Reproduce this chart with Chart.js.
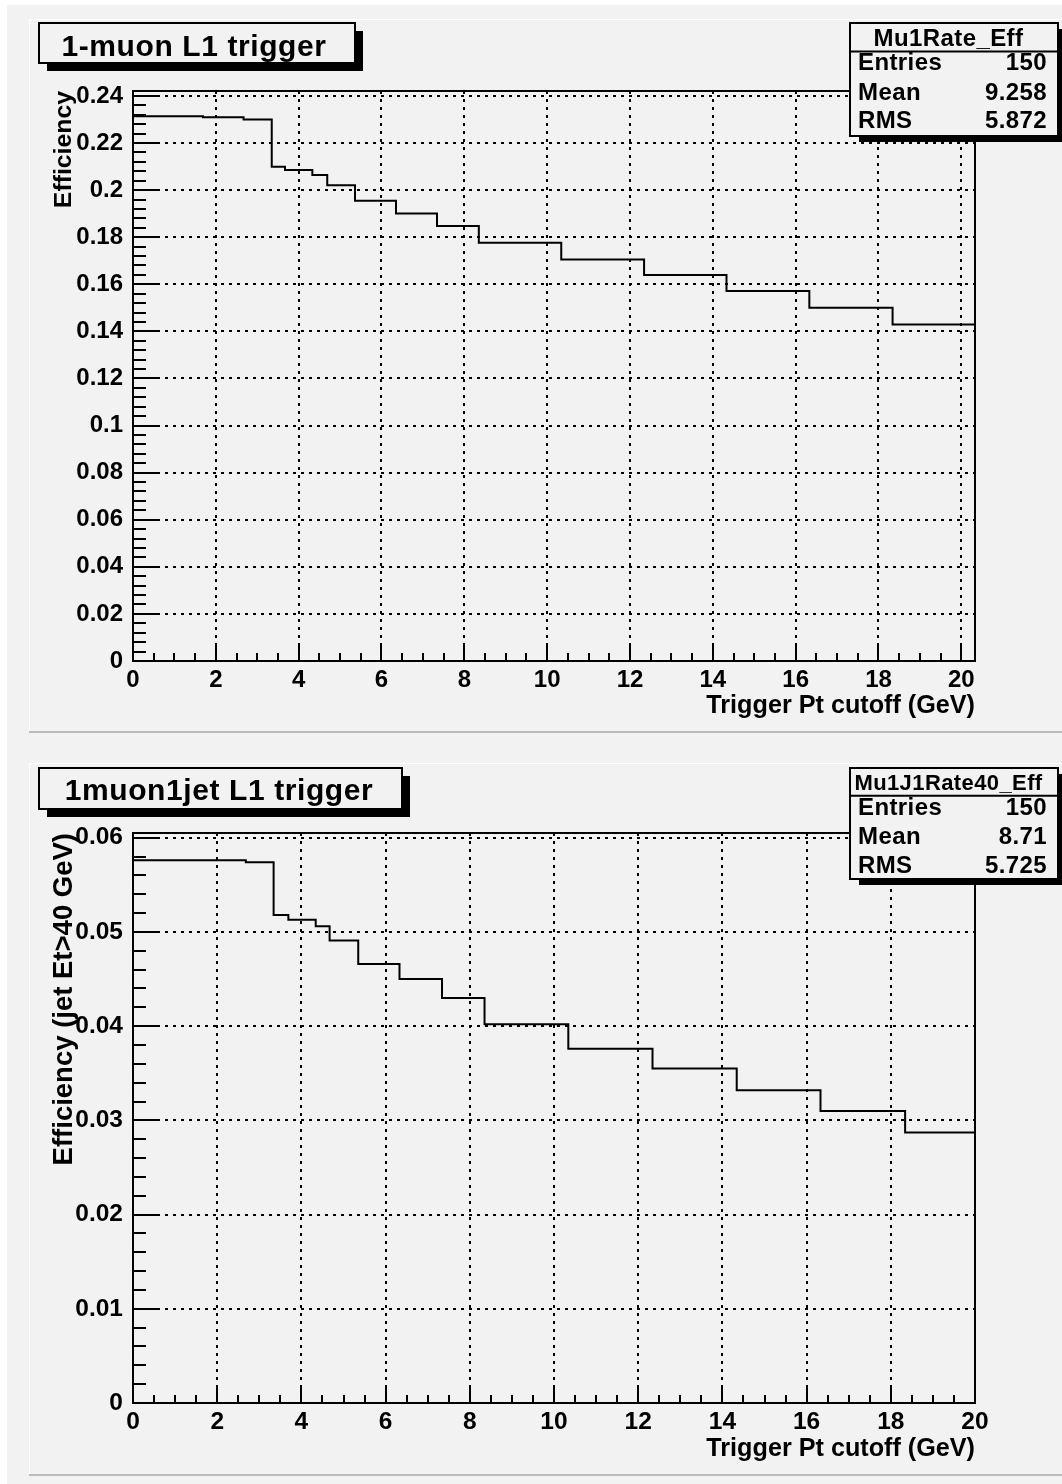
<!DOCTYPE html>
<html>
<head>
<meta charset="utf-8">
<title>L1 trigger efficiency vs Pt cutoff</title>
<script src="https://cdn.jsdelivr.net/npm/chart.js@4.4.1/dist/chart.umd.min.js"></script>
<style>
  html, body { margin: 0; padding: 0; background: #ffffff; }
  #sheet { position: relative; width: 1062px; height: 1484px; }
  #sheet canvas { position: absolute; left: 0; }
  #padTop { top: 0; }
  #padBottom { top: 742px; }
</style>
</head>
<body>
<div id="sheet">
  <canvas id="padTop" width="1062" height="742"></canvas>
  <canvas id="padBottom" width="1062" height="742"></canvas>
</div>
<script>
const BG = '#f2f2f2';
const FONT = "'Liberation Sans', Arial, Helvetica, sans-serif";

// 1-muon L1 trigger: lower bin edges in Pt cutoff (last entry = upper edge) and efficiency per bin
const muonCutEdges = [0, 1.69, 2.67, 3.35, 3.67, 4.33, 4.69, 5.36, 6.35, 7.34, 8.35, 10.34, 12.34, 14.33, 16.33, 18.34, 20.33];
const muonEff = [0.2314, 0.2309, 0.2300, 0.2099, 0.2085, 0.2064, 0.2021, 0.1955, 0.1901, 0.1848, 0.1776, 0.1705, 0.1639, 0.1571, 0.1500, 0.1429];
const muonStatValues = ['150', '9.258', '5.872'];

// 1muon1jet L1 trigger, jet Et > 40 GeV
const jetCutEdges = [0, 2.68, 3.34, 3.69, 4.34, 4.67, 5.35, 6.33, 7.34, 8.35, 10.34, 12.34, 14.34, 16.33, 18.34, 20];
const jetEff = [0.0576, 0.0574, 0.0518, 0.0513, 0.0506, 0.0491, 0.0466, 0.0450, 0.0430, 0.0402, 0.0376, 0.0355, 0.0332, 0.0310, 0.0287];
const jetStatValues = ['150', '8.71', '5.725'];

const statLabels = ['Entries', 'Mean', 'RMS'];

// axis ranges / tick steps
const xStep = 2;
const muonYMax = 0.2421;
const muonYStep = 0.02;
const jetYMax = 0.0605;
const jetYStep = 0.01;

function histPoints(edges, values) {
    const pts = values.map((v, i) => ({x: edges[i], y: v}));
    pts.push({x: edges[edges.length - 1], y: values[values.length - 1]});
    return pts;
}

function drawShadowBox(ctx, box, dx, dy) {
    const [x, y, w, h] = box;
    ctx.fillStyle = '#000';
    ctx.fillRect(x + dx, y + dy, w, h);
    ctx.fillStyle = BG;
    ctx.fillRect(x, y, w, h);
    ctx.lineWidth = 2;
    ctx.strokeStyle = '#000';
    ctx.strokeRect(x, y, w, h);
}

// ROOT-like pad decorations: background, frame, tick marks, title and stats boxes
const rootPad = {
    id: 'rootPad',
    beforeDraw(chart, args, opts) {
        const {ctx, width, height} = chart;
        ctx.save();
        ctx.fillStyle = '#ffffff';
        ctx.fillRect(0, 0, width, height);
        ctx.fillStyle = BG;
        ctx.fillRect(7, opts.sheetTop, width - 7, height - opts.sheetTop);
        const [top, bottom] = opts.padEdges;
        ctx.fillStyle = '#ffffff';
        ctx.fillRect(29, top, width - 29, 1);
        ctx.fillRect(29, top, 1, bottom - top);
        ctx.fillStyle = '#bcbcbc';
        ctx.fillRect(29, bottom, width - 29, 2);
        ctx.restore();
    },
    afterDatasetsDraw(chart) {
        const {ctx, chartArea: a, scales: {x, y}} = chart;
        ctx.save();
        ctx.strokeStyle = '#000';
        ctx.lineWidth = 2;
        ctx.beginPath();
        // y ticks: 5 subdivisions per labelled step
        const ySub = y.options.ticks.stepSize / 5;
        for (let k = 0; k * ySub <= y.max + 1e-9; k++) {
            const py = Math.round(y.getPixelForValue(k * ySub));
            const len = k % 5 === 0 ? 25 : 13;
            ctx.moveTo(a.left, py);
            ctx.lineTo(a.left + len, py);
        }
        // x ticks: 4 subdivisions
        const xSub = x.options.ticks.stepSize / 4;
        for (let k = 0; k * xSub <= x.max + 1e-9; k++) {
            const px = Math.round(x.getPixelForValue(k * xSub));
            const len = k % 4 === 0 ? 17 : 8;
            ctx.moveTo(px, a.bottom);
            ctx.lineTo(px, a.bottom - len);
        }
        ctx.stroke();
        ctx.strokeRect(a.left, a.top, a.right - a.left, a.bottom - a.top);
        ctx.restore();
    },
    afterDraw(chart, args, opts) {
        const ctx = chart.ctx;
        ctx.save();

        // title box
        drawShadowBox(ctx, opts.titleBox, 8, 8);
        ctx.fillStyle = '#000';
        ctx.font = 'bold 30px ' + FONT;
        ctx.letterSpacing = '0.6px';
        ctx.textAlign = 'center';
        ctx.textBaseline = 'alphabetic';
        ctx.fillText(opts.title, opts.titleX, opts.titleBase);

        // stats box
        drawShadowBox(ctx, opts.statBox, 9, 6);
        const [sx, , sw] = opts.statBox;
        ctx.beginPath();
        ctx.lineWidth = 2;
        ctx.moveTo(sx, opts.statLine);
        ctx.lineTo(sx + sw, opts.statLine);
        ctx.stroke();
        ctx.fillStyle = '#000';
        ctx.letterSpacing = '0.4px';
        ctx.font = 'bold ' + opts.statHeadSize + 'px ' + FONT;
        ctx.textAlign = 'center';
        ctx.fillText(opts.statName, 948.5, opts.statHeadBase);
        ctx.font = 'bold 24px ' + FONT;
        statLabels.forEach((label, i) => {
            ctx.textAlign = 'left';
            ctx.fillText(label, 858, opts.statBase[i]);
            ctx.textAlign = 'right';
            ctx.fillText(opts.statValues[i], 1047, opts.statBase[i]);
        });
        ctx.restore();
    }
};

function makePad(cfg) {
    return new Chart(document.getElementById(cfg.canvas), {
        type: 'line',
        data: {
            datasets: [{
                data: histPoints(cfg.edges, cfg.values),
                stepped: 'before',
                borderColor: '#000',
                borderWidth: 2,
                pointRadius: 0,
                fill: false
            }]
        },
        options: {
            responsive: false,
            animation: false,
            devicePixelRatio: 1,
            events: [],
            layout: {padding: {left: 33, top: 91, right: 87, bottom: 742 - 661 - cfg.xAxisHeight}},
            plugins: {
                legend: {display: false},
                tooltip: {enabled: false},
                rootPad: cfg.decor
            },
            scales: {
                x: {
                    type: 'linear',
                    min: 0,
                    max: cfg.edges[cfg.edges.length - 1],
                    afterFit: scale => { scale.height = cfg.xAxisHeight; },
                    ticks: {
                        stepSize: xStep,
                        includeBounds: false,
                        autoSkip: false,
                        maxRotation: 0,
                        padding: cfg.xTickPad,
                        color: '#000',
                        font: {family: FONT, size: cfg.tickSize, weight: 'bold', lineHeight: 1},
                        callback: v => String(v)
                    },
                    grid: {color: '#000', lineWidth: 2, drawTicks: false},
                    border: {display: false, dash: [3, 5]},
                    title: {
                        display: true,
                        text: 'Trigger Pt cutoff (GeV)',
                        align: 'end',
                        color: '#000',
                        padding: 0,
                        font: {family: FONT, size: 25.2, weight: 'bold', lineHeight: 1}
                    }
                },
                y: {
                    type: 'linear',
                    min: 0,
                    max: cfg.yMax,
                    afterFit: scale => { scale.width = 100; },
                    ticks: {
                        stepSize: cfg.yStep,
                        includeBounds: false,
                        autoSkip: false,
                        padding: 10,
                        color: '#000',
                        font: {family: FONT, size: cfg.tickSize, weight: 'bold', lineHeight: 1},
                        callback: v => String(+v.toFixed(4))
                    },
                    grid: {color: '#000', lineWidth: 2, drawTicks: false},
                    border: {display: false, dash: [3, 5]},
                    title: {
                        display: true,
                        text: cfg.yTitle,
                        align: 'end',
                        color: '#000',
                        padding: {top: 31 - cfg.axisTitleSize / 2},
                        font: {family: FONT, size: cfg.axisTitleSize, weight: 'bold', lineHeight: 1}
                    }
                }
            }
        },
        plugins: [rootPad]
    });
}

makePad({
    canvas: 'padTop',
    edges: muonCutEdges,
    values: muonEff,
    yMax: muonYMax,
    yStep: muonYStep,
    yTitle: 'Efficiency',
    tickSize: 24,
    axisTitleSize: 24.8,
    xTickPad: 7.5,
    xAxisHeight: 58,
    decor: {
        sheetTop: 5,
        padEdges: [19, 731],
        title: '1-muon L1 trigger',
        titleBox: [39, 23, 316, 40],
        titleX: 194,
        titleBase: 56,
        statName: 'Mu1Rate_Eff',
        statHeadSize: 24,
        statBox: [850, 23, 208, 113],
        statLine: 51.5,
        statHeadBase: 45.7,
        statBase: [70, 99.8, 128],
        statValues: muonStatValues
    }
});

makePad({
    canvas: 'padBottom',
    edges: jetCutEdges,
    values: jetEff,
    yMax: jetYMax,
    yStep: jetYStep,
    yTitle: 'Efficiency (jet Et>40 GeV)',
    tickSize: 24.5,
    axisTitleSize: 27.5,
    xTickPad: 7,
    xAxisHeight: 59,
    decor: {
        sheetTop: 0,
        padEdges: [21, 732],
        title: '1muon1jet L1 trigger',
        titleBox: [39, 26, 363, 41],
        titleX: 219,
        titleBase: 58,
        statName: 'Mu1J1Rate40_Eff',
        statHeadSize: 22,
        statBox: [850, 26, 208, 111],
        statLine: 53.7,
        statHeadBase: 47.6,
        statBase: [73, 101.8, 130.6],
        statValues: jetStatValues
    }
});
</script>
</body>
</html>
